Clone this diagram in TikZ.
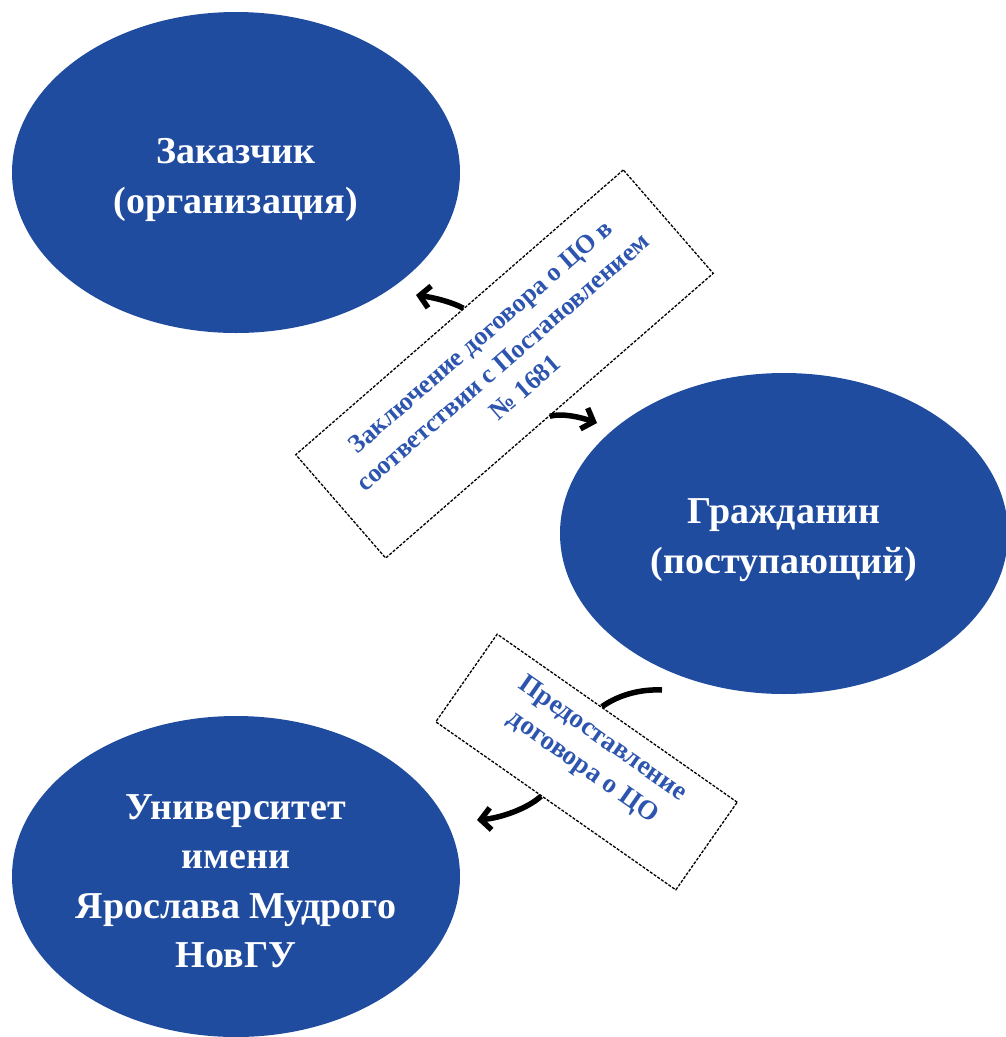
\documentclass[tikz,border=0pt]{standalone}
\usepackage{fontspec}
\setmainfont{Liberation Serif}
\usetikzlibrary{arrows.meta,shapes.geometric,calc}
\definecolor{ellblue}{RGB}{32,76,160}
\definecolor{txtblue}{RGB}{45,85,175}
\begin{document}
\begin{tikzpicture}[x=1pt,y=-1pt,
  ell/.style={ellipse, fill=ellblue, minimum width=448pt, minimum height=321pt, inner sep=0pt},
  elltext/.style={text=white, font=\fontsize{38}{49.5}\selectfont\bfseries, align=center, inner sep=0pt},
  lbox/.style={draw=black, fill=white, line width=1.3pt, dash pattern=on 3pt off 1.5pt, inner sep=0pt},
  boxtext/.style={text=txtblue, align=center, inner sep=0pt},
  conn/.style={line width=5.5pt, -{Straight Barb[length=10pt,width=22pt]}},
  plainconn/.style={line width=5.5pt},
]
\useasboundingbox (0,0) rectangle (1006,1037);
\clip (0,0) rectangle (1006,1037);

\node[ell] (zak) at (236,172.5) {};
\node[ell] (grazh) at (784,533.5) {};
\node[ell] (univ) at (236,876.5) {};
\node[elltext] (zakt) at ($(zak.center)+(0,7.5)$) {Заказчик\\(организация)};
\node[elltext] (grazht) at ($(grazh.center)+(0,6.5)$) {Гражданин\\(поступающий)};
\node[elltext] (univt) at ($(univ.center)+(0,4.5)$) {Университет\\имени\\Ярослава Мудрого\\НовГУ};

\node[lbox, rotate=41, minimum width=434pt, minimum height=137pt] (b1) at (504.5,364) {};
\node[boxtext, rotate=41, font=\fontsize{26}{34}\selectfont\bfseries] (b1t) at ($(b1.center)+(-1.8,-2.1)$)
  {Заключение договора о ЦО в\\соответствии с Постановлением\\№ 1681};
\node[lbox, rotate=-35, minimum width=293pt, minimum height=107pt] (b2) at (586.5,762) {};
\node[boxtext, rotate=-35, font=\fontsize{27}{34.4}\selectfont\bfseries] (b2t) at ($(b2.center)+(6,-8.5)$)
  {Предоставление\\договора о ЦО};

\coordinate (a1) at (416,295);
\coordinate (a2) at (597,423);
\coordinate (a3) at (662,690);
\coordinate (a4) at (477,820);

\draw[conn] ($(b1.north)!0.025!(b1.north east)$) .. controls (450,301) and (430,297) .. (a1);
\draw[conn] (b1.south) .. controls (562,413) and (580,417) .. (a2);
\draw[plainconn] ($(b2.north)!0.13!(b2.north west)$) .. controls (620,694) and (642,689) .. (a3);
\draw[conn] ($(b2.south)!0.12!(b2.south west)$) .. controls (527,809) and (500,818) .. (a4);
\end{tikzpicture}
\end{document}
